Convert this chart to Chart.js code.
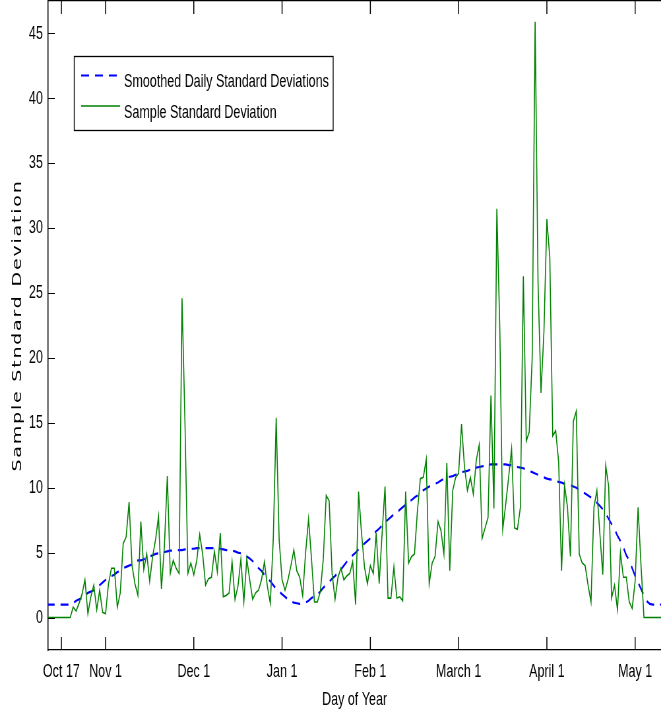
<!DOCTYPE html>
<html>
<head>
<meta charset="utf-8">
<title>Sample Standard Deviation by Day of Year</title>
<script src="https://cdn.jsdelivr.net/npm/chart.js@4/dist/chart.umd.min.js"></script>
<style>
  html, body { margin: 0; padding: 0; background: #fff; overflow: hidden; }
  /* the plot is laid out wide and then compressed horizontally */
  #wrap { width: 1002px; height: 717px; transform: scaleX(0.6597); transform-origin: 0 0; }
  canvas { display: block; }
</style>
</head>
<body>
<div id="wrap"><canvas id="chart" width="1002" height="717"></canvas></div>
<script>
// ---------------------------------------------------------------------------
// Data — one value per day, days counted from Oct 1 (first value = day 11)
// ---------------------------------------------------------------------------
const FIRST_DAY = 11;
const X_MIN = 11.5;
const X_MAX = 219.8;

const tickDays   = [16, 31, 61, 91, 121, 151, 181, 211];
const tickLabels = ['Oct 17', 'Nov 1', 'Dec 1', 'Jan 1', 'Feb 1', 'March 1', 'April 1', 'May 1'];
const yTicks     = [0, 5, 10, 15, 20, 25, 30, 35, 40, 45];

const seriesLabels = ['Smoothed Daily Standard Deviations', 'Sample Standard Deviation'];

const smoothedSd = [
  1.0, 1.0, 1.0, 1.0, 1.0, 1.0, 1.0, 1.0, 1.0,
  1.1, 1.3, 1.4, 1.5, 1.7, 1.9, 2.0, 2.1, 2.3, 2.5,
  2.7, 2.9, 3.0, 3.2, 3.3, 3.5, 3.6, 3.8, 3.9, 4.0,
  4.1, 4.3, 4.4, 4.4, 4.5, 4.6, 4.7, 4.8, 4.9, 4.95,
  5.0, 5.05, 5.1, 5.15, 5.15, 5.2, 5.2, 5.2, 5.25, 5.3,
  5.3, 5.3, 5.35, 5.35, 5.35, 5.35, 5.35, 5.35, 5.35, 5.3,
  5.3, 5.25, 5.2, 5.2, 5.15, 5.1, 5.0, 4.95, 4.85, 4.7,
  4.55, 4.35, 4.1, 3.8, 3.6, 3.3, 3.0, 2.8, 2.5, 2.2,
  2.0, 1.8, 1.6, 1.4, 1.25, 1.15, 1.1, 1.05, 1.1, 1.15,
  1.3, 1.5, 1.65, 1.8, 2.0, 2.3, 2.5, 2.75, 3.0, 3.2,
  3.45, 3.7, 4.0, 4.3, 4.6, 4.8, 5.0, 5.25, 5.5, 5.7,
  5.9, 6.1, 6.4, 6.65, 6.85, 7.1, 7.3, 7.55, 7.75, 7.95,
  8.1, 8.3, 8.5, 8.7, 8.9, 9.05, 9.25, 9.4, 9.6, 9.8,
  9.95, 10.1, 10.2, 10.3, 10.4, 10.55, 10.7, 10.8, 10.85, 10.9,
  11.0, 11.1, 11.2, 11.25, 11.3, 11.4, 11.45, 11.55, 11.6, 11.65,
  11.7, 11.75, 11.8, 11.8, 11.8, 11.8, 11.8, 11.8, 11.75, 11.75,
  11.7, 11.6, 11.55, 11.5, 11.4, 11.3, 11.2, 11.1, 11.0, 10.9,
  10.8, 10.7, 10.65, 10.6, 10.5, 10.45, 10.4, 10.3, 10.25, 10.2,
  10.1, 10.0, 9.85, 9.7, 9.55, 9.4, 9.25, 9.05, 8.85, 8.6,
  8.35, 8.0, 7.6, 7.2, 6.8, 6.3, 5.9, 5.4, 4.8, 4.4,
  3.8, 3.2, 2.7, 2.2, 1.7, 1.25, 1.05, 1.0, 1.0, 1.0,
  1.0
];

const sampleSd = [
  0, 0, 0, 0, 0, 0, 0, 0, 0,
  0.8, 0.5, 1.1, 1.8, 2.9, 0.3, 1.6, 2.5, 0.6, 2.1,
  0.4, 0.3, 2.6, 3.8, 3.8, 0.8, 1.9, 5.7, 6.2, 8.9,
  4.0, 2.6, 1.7, 7.4, 3.7, 4.9, 2.8, 4.7, 6.0, 7.8,
  2.2, 5.5, 10.9, 3.4, 4.4, 3.8, 3.4, 24.6, 15.0, 3.4,
  4.2, 3.3, 4.4, 6.4, 4.9, 2.5, 3.0, 3.1, 5.1, 3.5,
  6.5, 1.6, 1.7, 1.9, 4.3, 1.4, 2.4, 4.5, 1.2, 4.5,
  2.9, 1.4, 1.9, 2.1, 2.9, 4.3, 2.4, 1.1, 6.0, 15.4,
  6.0, 2.9, 2.1, 2.9, 4.0, 5.2, 3.6, 3.1, 1.7, 5.0,
  7.6, 4.5, 1.2, 1.2, 2.0, 4.5, 9.4, 9.0, 3.4, 1.4,
  3.1, 3.8, 2.9, 3.2, 3.4, 4.3, 1.0, 9.7, 6.5, 3.9,
  2.6, 4.0, 3.4, 6.5, 2.6, 6.5, 10.1, 1.5, 1.5, 3.9,
  1.5, 1.6, 1.3, 9.7, 4.2, 4.7, 4.9, 8.2, 10.7, 10.8,
  12.2, 2.6, 4.2, 4.7, 7.4, 6.7, 4.9, 11.9, 3.6, 9.8,
  10.8, 11.1, 14.9, 11.6, 9.8, 10.8, 9.5, 12.1, 13.3, 6.1,
  6.9, 7.7, 17.1, 8.4, 31.5, 22.3, 6.8, 8.7, 10.8, 13.0,
  6.9, 6.8, 8.5, 26.3, 13.6, 14.3, 20.0, 45.9, 25.8, 17.3,
  22.0, 30.7, 27.7, 14.0, 14.4, 12.0, 3.6, 10.2, 8.5, 4.7,
  15.1, 15.9, 4.9, 4.2, 4.0, 2.5, 1.2, 8.5, 9.8, 6.5,
  3.3, 11.7, 10.1, 1.5, 2.5, 0.6, 5.0, 3.1, 3.1, 1.2,
  0.7, 2.8, 8.5, 4.0, 0,
  0, 0, 0, 0, 0, 0
];

const days = sampleSd.map((_, i) => FIRST_DAY + i);

const Y_TITLE = 'Sample Stndard Deviation';
const X_TITLE = 'Day of Year';

const FONT = { family: "'Liberation Sans', Arial, Helvetica, sans-serif", size: 19 };

// ---------------------------------------------------------------------------
// Plugins: inward tick marks, rotated y title, boxed legend
// ---------------------------------------------------------------------------
const innerTicks = {
  id: 'innerTicks',
  afterDraw(chart) {
    const { ctx, chartArea: a, scales: { x, y } } = chart;
    ctx.save();
    ctx.strokeStyle = '#000';
    ctx.lineWidth = 1.5;
    ctx.beginPath();
    x.ticks.forEach(t => {
      const px = x.getPixelForValue(t.value);
      ctx.moveTo(px, a.bottom); ctx.lineTo(px, a.bottom - 13);
      ctx.moveTo(px, a.top);    ctx.lineTo(px, a.top + 13);
    });
    ctx.stroke();
    ctx.lineWidth = 1;
    ctx.beginPath();
    y.ticks.forEach(t => {
      const py = Math.round(y.getPixelForValue(t.value)) + 0.5;
      ctx.moveTo(a.left, py); ctx.lineTo(a.left + 10, py);
    });
    ctx.stroke();
    ctx.restore();
  }
};

const yTitle = {
  id: 'yTitle',
  afterDraw(chart) {
    const { ctx, chartArea: a } = chart;
    ctx.save();
    ctx.translate(27, (a.top + a.bottom) / 2);
    ctx.rotate(-Math.PI / 2);
    ctx.font = "19px 'DejaVu Sans', sans-serif";
    ctx.letterSpacing = '1.8px';
    ctx.fillStyle = '#000';
    ctx.textAlign = 'center';
    ctx.textBaseline = 'middle';
    ctx.fillText(Y_TITLE, 0, 0);
    ctx.restore();
  }
};

const boxLegend = {
  id: 'boxLegend',
  afterDraw(chart) {
    const { ctx } = chart;
    const box = { left: 112.5, top: 56.5, right: 505, bottom: 130.5 };
    ctx.save();
    ctx.fillStyle = '#fff';
    ctx.fillRect(box.left, box.top, box.right - box.left, box.bottom - box.top);
    ctx.strokeStyle = '#000';
    ctx.lineWidth = 1.3;
    ctx.strokeRect(box.left, box.top, box.right - box.left, box.bottom - box.top);
    chart.data.datasets.forEach((ds, i) => {
      const y = 75.5 + i * 30.5;
      ctx.strokeStyle = ds.borderColor;
      ctx.lineWidth = ds.borderWidth;
      ctx.setLineDash(ds.borderDash || []);
      ctx.beginPath();
      ctx.moveTo(123, y);
      ctx.lineTo(182, y);
      ctx.stroke();
      ctx.setLineDash([]);
      ctx.fillStyle = '#000';
      ctx.font = `${FONT.size}px ${FONT.family}`;
      ctx.textAlign = 'left';
      ctx.textBaseline = 'alphabetic';
      ctx.fillText(ds.label, 188, y + 11.5);
    });
    ctx.restore();
  }
};

// ---------------------------------------------------------------------------
// Chart
// ---------------------------------------------------------------------------
new Chart(document.getElementById('chart'), {
  type: 'line',
  data: {
    datasets: [
      {
        label: seriesLabels[0],
        data: days.map((d, i) => ({ x: d, y: smoothedSd[i] })),
        borderColor: '#0000ff',
        borderWidth: 2.2,
        borderDash: [12, 9],
        order: 1,
      },
      {
        label: seriesLabels[1],
        data: days.map((d, i) => ({ x: d, y: sampleSd[i] })),
        borderColor: '#008000',
        borderWidth: 1.6,
        order: 0,
      },
    ],
  },
  options: {
    responsive: false,
    animation: false,
    devicePixelRatio: 1,
    layout: { padding: 0 },
    elements: {
      point: { radius: 0, hoverRadius: 0 },
      line: { tension: 0, fill: false },
    },
    plugins: {
      legend: { display: false },
      tooltip: { enabled: false },
    },
    scales: {
      x: {
        type: 'linear',
        position: 'bottom',
        min: X_MIN,
        max: X_MAX,
        afterBuildTicks: s => { s.ticks = tickDays.map(v => ({ value: v })); },
        afterFit: s => { s.height = 67; s.paddingLeft = 0; s.paddingRight = 0; },
        ticks: {
          autoSkip: false,
          maxRotation: 0,
          padding: 10,
          color: '#000',
          font: FONT,
          callback: v => tickLabels[tickDays.indexOf(v)],
        },
        grid: { display: false, drawTicks: false },
        border: { display: true, color: '#000', width: 1.2 },
        title: {
          display: true,
          text: X_TITLE,
          color: '#000',
          font: FONT,
          padding: { top: 0, bottom: 6 },
        },
      },
      x2: {
        type: 'linear',
        position: 'top',
        min: X_MIN,
        max: X_MAX,
        afterFit: s => { s.height = 1; s.paddingLeft = 0; s.paddingRight = 0; },
        ticks: { display: false },
        grid: { display: false, drawTicks: false },
        border: { display: true, color: '#000', width: 1.2 },
      },
      y: {
        min: -2.5,
        max: 47.5,
        afterBuildTicks: s => { s.ticks = yTicks.map(v => ({ value: v })); },
        afterFit: s => { s.width = 73; s.paddingTop = 0; s.paddingBottom = 0; },
        ticks: { padding: 8, color: '#000', font: FONT },
        grid: { display: false, drawTicks: false },
        border: { display: true, color: '#000', width: 1.5 },
      },
    },
  },
  plugins: [innerTicks, yTitle, boxLegend],
});
</script>
</body>
</html>
